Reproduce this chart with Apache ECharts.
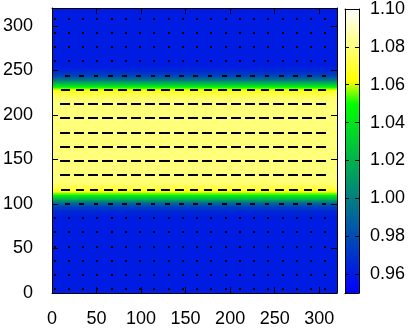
<!DOCTYPE html>
<html>
<head>
<meta charset="utf-8">
<title>profile</title>
<style>
html, body { margin: 0; padding: 0; background: #fff; }
#main { width: 408px; height: 328px; }
</style>
</head>
<body>
<div id="main"></div>
<script src="https://cdn.jsdelivr.net/npm/echarts@6/dist/echarts.min.js"></script>
<script>
// tick labels
var xTicks = [0, 50, 100, 150, 200, 250, 300];
var yTicks = [0, 50, 100, 150, 200, 250, 300];
var cbTicks = [0.96, 0.98, 1.00, 1.02, 1.04, 1.06, 1.08, 1.10];

// colour field: only changes along y, so it is kept as horizontal bands
// (band i goes from bandEdges[i] to bandEdges[i+1])
var bandEdges = [0, 87, 89, 91, 93, 95, 97, 99, 101, 103, 105, 107, 109, 111, 113, 115, 117, 119, 121, 123, 125,
	217, 219, 221, 223, 225, 227, 229, 231, 233, 235, 237, 239, 241, 243, 245, 247, 249, 251, 253, 255, 320];
var bandValues = [0.961, 0.963, 0.964, 0.966, 0.969, 0.973, 0.978, 0.986, 0.996, 1.008, 1.021,
	1.033, 1.045, 1.055, 1.063, 1.068, 1.072, 1.075, 1.077, 1.078, 1.080,
	1.078, 1.077, 1.075, 1.072, 1.068, 1.063, 1.055, 1.045, 1.033, 1.021,
	1.008, 0.996, 0.986, 0.978, 0.973, 0.969, 0.966, 0.964, 0.963, 0.961];

// vector field (x component only), one length per row
var vecX = [4, 20, 36, 52, 68, 84, 100, 116, 132, 148, 164, 180, 196, 212, 228, 244, 260, 276, 292, 308];
var vecY = [4, 20, 36, 52, 68, 84, 100, 116, 132, 148, 164, 180, 196, 212, 228, 244, 260, 276, 292, 308];
var vecLen = [2.2, 2.2, 2.2, 2.2, 2.2, 2.2, 5.2, 9.5, 11.5, 11.5, 11.5, 11.5, 11.5, 11.5, 9.5, 5.2, 2.2, 2.2, 2.2, 2.2];

// palette: blue -> green -> yellow -> white
var palette = [[0.95, [0, 0, 255]], [1.05, [0, 255, 0]], [1.062, [255, 255, 0]], [1.10, [255, 255, 255]]];
var cbMin = 0.95, cbMax = 1.10;

function colorOf(v) {
	if (v <= palette[0][0]) return 'rgb(' + palette[0][1].join(',') + ')';
	for (var i = 1; i < palette.length; i++) {
		if (v <= palette[i][0]) {
			var a = palette[i - 1], b = palette[i];
			var t = (v - a[0]) / (b[0] - a[0]);
			var c = [0, 1, 2].map(function(k) { return Math.round(a[1][k] + (b[1][k] - a[1][k]) * t); });
			return 'rgb(' + c.join(',') + ')';
		}
	}
	return 'rgb(' + palette[palette.length - 1][1].join(',') + ')';
}

var bandData = bandValues.map(function(v, i) { return [bandEdges[i], bandEdges[i + 1], v]; });
var vecData = [];
vecY.forEach(function(y, j) {
	vecX.forEach(function(x) { vecData.push([x, y, vecLen[j]]); });
});

var font = 'Liberation Sans, Arial, Helvetica, sans-serif';
var black = '#000';

function plotAxis(pos, grid, labels) {
	var isX = pos == 'bottom' || pos == 'top';
	return {
		type: 'value', gridIndex: grid, position: pos, min: 0, max: 320, z: 5,
		axisLine: { show: true, onZero: false, lineStyle: { color: black, width: 1 } },
		axisTick: { show: true, inside: true, length: 6, lineStyle: { color: black }, customValues: isX ? xTicks : yTicks },
		axisLabel: { show: labels, color: black, fontSize: 18, fontFamily: font, margin: isX ? 17 : 19, customValues: isX ? xTicks : yTicks },
		splitLine: { show: false }
	};
}

var chart = echarts.init(document.getElementById('main'), null, { renderer: 'canvas' });
var option = {
	animation: false,
	backgroundColor: '#fff',
	grid: [
		{ left: 52, top: 8, width: 285, height: 285 },
		{ left: 345, top: 8, width: 15, height: 285 }
	],
	xAxis: [
		plotAxis('bottom', 0, true),
		plotAxis('top', 0, false),
		{ type: 'value', gridIndex: 1, position: 'bottom', min: 0, max: 1, z: 5,
			axisLine: { show: true, onZero: false, lineStyle: { color: black } }, axisTick: { show: false }, axisLabel: { show: false }, splitLine: { show: false } },
		{ type: 'value', gridIndex: 1, position: 'top', min: 0, max: 1, z: 5,
			axisLine: { show: true, onZero: false, lineStyle: { color: black } }, axisTick: { show: false }, axisLabel: { show: false }, splitLine: { show: false } }
	],
	yAxis: [
		plotAxis('left', 0, true),
		plotAxis('right', 0, false),
		{ type: 'value', gridIndex: 1, position: 'right', min: cbMin, max: cbMax, z: 5,
			axisLine: { show: true, onZero: false, lineStyle: { color: black } },
			axisTick: { show: true, inside: true, length: 4, lineStyle: { color: black }, customValues: cbTicks },
			axisLabel: { show: true, color: black, fontSize: 18, fontFamily: font, margin: 11, customValues: cbTicks,
				formatter: function(v) { return v.toFixed(2); } },
			splitLine: { show: false } },
		{ type: 'value', gridIndex: 1, position: 'left', min: cbMin, max: cbMax, z: 5,
			axisLine: { show: true, onZero: false, lineStyle: { color: black } },
			axisTick: { show: true, inside: true, length: 4, lineStyle: { color: black }, customValues: cbTicks },
			axisLabel: { show: false }, splitLine: { show: false } }
	],
	series: [
		{
			// colour field
			type: 'custom', xAxisIndex: 0, yAxisIndex: 0, clip: true, z: 1,
			data: bandData,
			renderItem: function(params, api) {
				var p0 = api.coord([0, api.value(1)]);
				var p1 = api.coord([320, api.value(0)]);
				return {
					type: 'rect',
					shape: { x: p0[0], y: p0[1] - 0.5, width: p1[0] - p0[0], height: p1[1] - p0[1] + 1 },
					style: { fill: colorOf(api.value(2)) }
				};
			}
		},
		{
			// vectors, snapped to whole pixels so they stay crisp
			type: 'custom', xAxisIndex: 0, yAxisIndex: 0, clip: true, z: 3,
			data: vecData,
			renderItem: function(params, api) {
				var x = api.value(0), y = api.value(1), len = api.value(2);
				if (x - len < 0) return null;
				var a = api.coord([x - len, y]);
				var b = api.coord([x, y]);
				var py = Math.round(a[1]);
				return {
					type: 'line',
					shape: { x1: Math.round(a[0]), y1: py, x2: Math.round(b[0]), y2: py },
					style: { stroke: black, lineWidth: 2, lineCap: 'butt' }
				};
			}
		},
		{
			// colour bar
			type: 'custom', xAxisIndex: 2, yAxisIndex: 2, z: 1,
			data: [[0, cbMax, 1, cbMin]],
			renderItem: function(params, api) {
				var p0 = api.coord([api.value(0), api.value(1)]);
				var p1 = api.coord([api.value(2), api.value(3)]);
				var stops = palette.map(function(p) {
					return { offset: (p[0] - cbMin) / (cbMax - cbMin), color: 'rgb(' + p[1].join(',') + ')' };
				});
				return {
					type: 'rect',
					shape: { x: p0[0], y: p0[1], width: p1[0] - p0[0], height: p1[1] - p0[1] },
					style: { fill: new echarts.graphic.LinearGradient(0, 1, 0, 0, stops) }
				};
			}
		}
	]
};
chart.setOption(option);
</script>
</body>
</html>
